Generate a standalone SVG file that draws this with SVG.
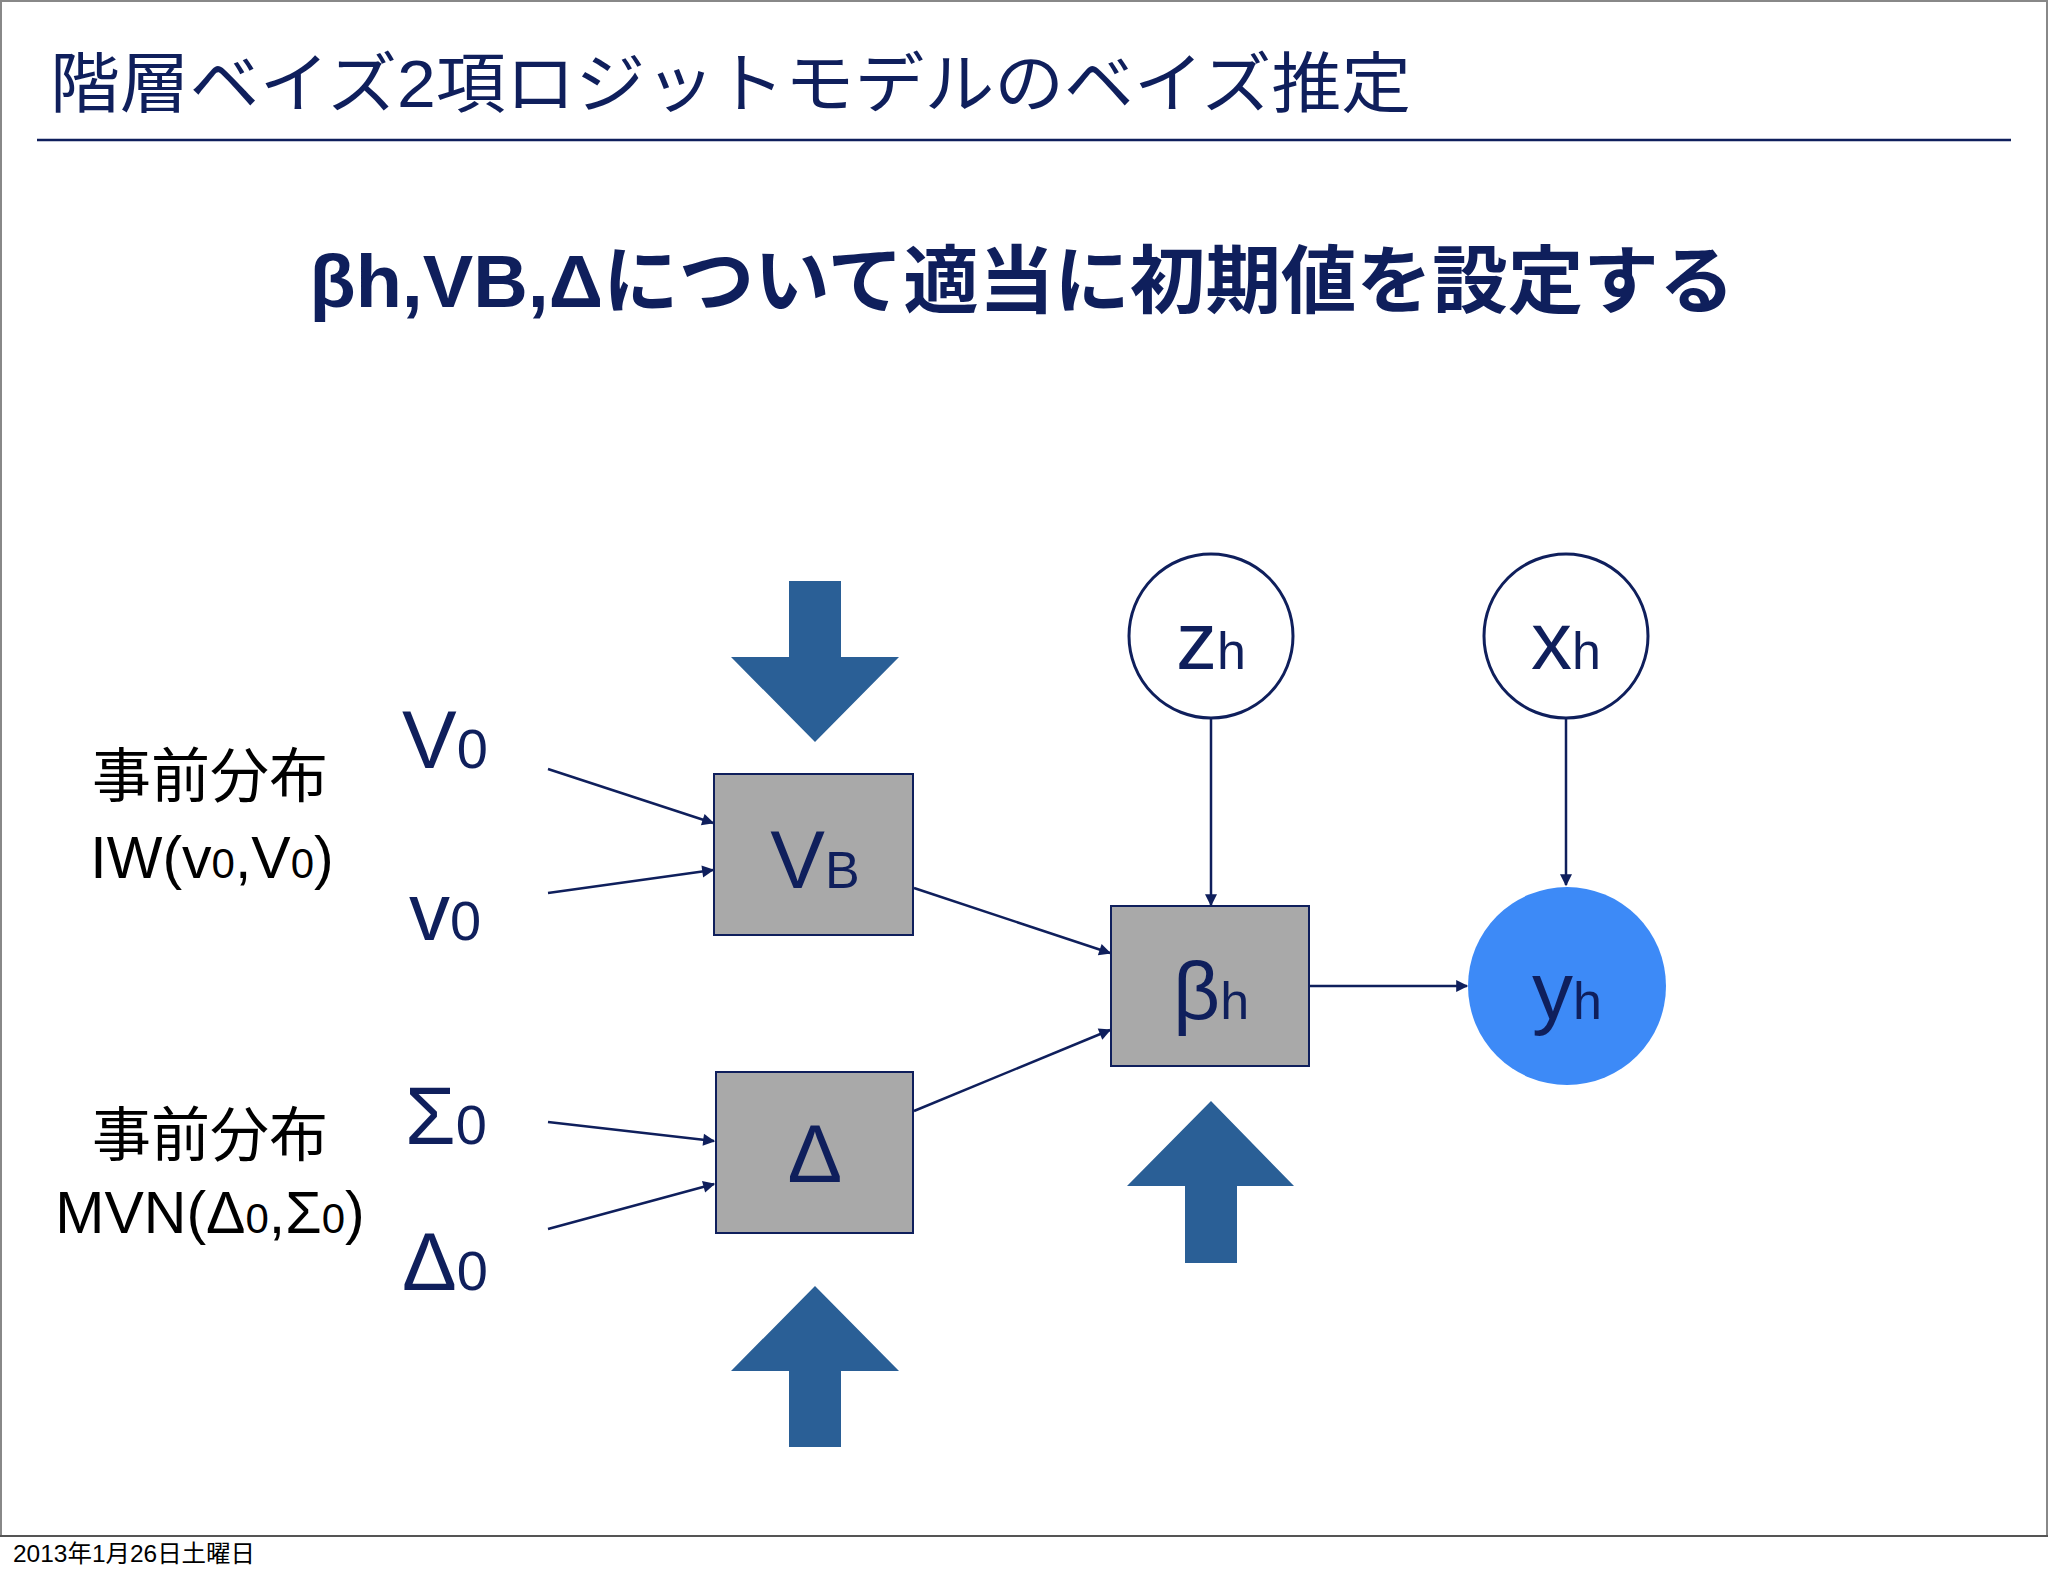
<svg xmlns="http://www.w3.org/2000/svg" width="2048" height="1576" viewBox="0 0 2048 1576">
<style>
.jp{font-family:"Liberation Sans","Noto Sans CJK JP",sans-serif}
.lb{font-family:"Liberation Sans","Noto Sans CJK JP",sans-serif;fill:#0f1f5c}
.box{fill:#a9a9a9;stroke:#0f1f5c;stroke-width:2}
.cir{fill:#fff;stroke:#0f1f5c;stroke-width:3}
.big{fill:#2a5f96}
.con line{stroke:#0f1f5c;stroke-width:2.5;marker-end:url(#ah)}
</style>
<defs>
<marker id="ah" viewBox="0 0 10 10" refX="9" refY="5" markerWidth="6" markerHeight="6" orient="auto" markerUnits="userSpaceOnUse" style="overflow:visible"><path d="M0,0 L10,5 L0,10 z" fill="#0f1f5c" transform="scale(2) translate(-4.5,-2.5)"/></marker>
</defs>
<rect width="2048" height="1576" fill="#fff"/>
<rect x="1" y="1" width="2046" height="1535" fill="none" stroke="#888" stroke-width="2"/>
<text x="50" y="107" class="jp" font-size="66" fill="#0f1f5c" textLength="1361" lengthAdjust="spacingAndGlyphs">階層ベイズ2項ロジットモデルのベイズ推定</text>
<line x1="37" y1="140" x2="2011" y2="140" stroke="#0f1f5c" stroke-width="2.5"/>
<text x="1022" y="307" class="jp" font-size="74" font-weight="bold" fill="#0f1f5c" text-anchor="middle" textLength="1425" lengthAdjust="spacingAndGlyphs">βh,VB,Δについて適当に初期値を設定する</text>
<line x1="0" y1="1536" x2="2048" y2="1536" stroke="#555" stroke-width="2"/>
<text x="13" y="1562" class="jp" font-size="24" fill="#000" textLength="242" lengthAdjust="spacingAndGlyphs">2013年1月26日土曜日</text>

<g id="arrow-top"><path class="big" d="M789,581 H841 V657 H899 L815,742 L731,657 H789 Z"/></g>
<g id="arrow-beta"><path class="big" d="M1211,1101 L1294,1186 H1237 V1263 H1185 V1186 H1127 Z"/></g>
<g id="arrow-bottom"><path class="big" d="M815,1286 L899,1371 H841 V1447 H789 V1371 H731 Z"/></g>

<g class="con" id="connectors">
<line x1="548" y1="769" x2="713" y2="823"/>
<line x1="548" y1="893" x2="713" y2="870"/>
<line x1="914" y1="888" x2="1110" y2="953"/>
<line x1="914" y1="1111" x2="1110" y2="1030"/>
<line x1="1211" y1="717" x2="1211" y2="905"/>
<line x1="1566" y1="717" x2="1566" y2="885"/>
<line x1="1310" y1="986" x2="1467" y2="986"/>
<line x1="548" y1="1122" x2="714" y2="1141"/>
<line x1="548" y1="1229" x2="714" y2="1184"/>
</g>

<g id="VB"><rect class="box" x="714" y="774" width="199" height="161"/><text x="815" y="888" class="lb" font-size="82" text-anchor="middle">V<tspan font-size="52">B</tspan></text></g>
<g id="Delta"><rect class="box" x="716" y="1072" width="197" height="161"/><text x="815" y="1182" class="lb" font-size="82" text-anchor="middle">Δ</text></g>
<g id="beta"><rect class="box" x="1111" y="906" width="198" height="160"/><text x="1211" y="1019" class="lb" font-size="82" text-anchor="middle">β<tspan font-size="52">h</tspan></text></g>
<g id="zh"><circle class="cir" cx="1211" cy="636" r="82"/><text x="1211" y="669" class="lb" font-size="82" text-anchor="middle">z<tspan font-size="52">h</tspan></text></g>
<g id="xh"><circle class="cir" cx="1566" cy="636" r="82"/><text x="1566" y="669" class="lb" font-size="82" text-anchor="middle">x<tspan font-size="52">h</tspan></text></g>
<g id="yh"><circle cx="1567" cy="986" r="99" fill="#3d8af7"/><text x="1567" y="1019" class="lb" font-size="82" text-anchor="middle">y<tspan font-size="52">h</tspan></text></g>

<g id="V0"><text x="402" y="768" class="lb" font-size="82">V<tspan font-size="56">0</tspan></text></g>
<g id="v0"><text x="409" y="940" class="lb" font-size="82">v<tspan font-size="56">0</tspan></text></g>
<g id="S0"><text x="405" y="1144" class="lb" font-size="82">Σ<tspan font-size="56">0</tspan></text></g>
<g id="D0"><text x="402" y="1290" class="lb" font-size="82">Δ<tspan font-size="56">0</tspan></text></g>

<g id="prior1"><text x="210" y="797" class="jp" font-size="59" text-anchor="middle">事前分布</text><text x="212" y="878" class="jp" font-size="59" text-anchor="middle">IW(v<tspan font-size="42">0</tspan>,V<tspan font-size="42">0</tspan>)</text></g>
<g id="prior2"><text x="210" y="1156" class="jp" font-size="59" text-anchor="middle">事前分布</text><text x="210" y="1233" class="jp" font-size="59" text-anchor="middle">MVN(Δ<tspan font-size="42">0</tspan>,Σ<tspan font-size="42">0</tspan>)</text></g>
</svg>
